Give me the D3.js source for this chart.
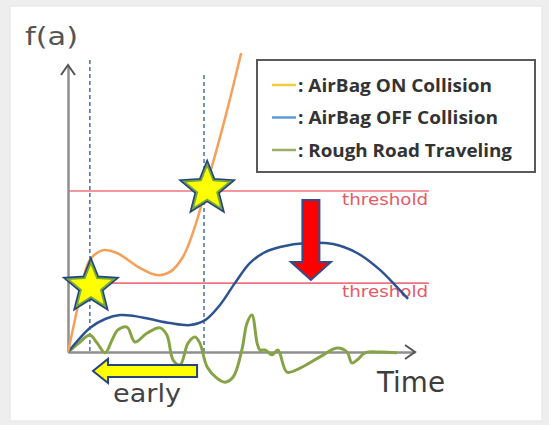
<!DOCTYPE html>
<html>
<head>
<meta charset="utf-8">
<script src="https://cdn.jsdelivr.net/npm/d3@7"></script>
<style>
  html, body { margin: 0; padding: 0; background: #eeeeee; }
  svg { display: block; }
</style>
</head>
<body>
<svg id="chart" width="549" height="425"></svg>
<script>
// ---------- data (time t, value f(a)) ----------
const seriesNames = ["AirBag ON Collision", "AirBag OFF Collision", "Rough Road Traveling"];
const legendColors = ["#f2cc3a", "#5b9bd5", "#9bad6a"];

const airbagOnT = [0, 2.6, 4.3, 6.3, 10.1, 14.1, 20.7, 25.6, 29.4, 33.1, 37.2, 39.5, 42.4, 46.1, 49.9];
const airbagOnV = [0, 14.6, 25.1, 32.1, 35.5, 34.5, 29.3, 26.8, 27.9, 33.1, 46.0, 56.4, 68.6, 85.4, 104.2];

const airbagOffT = [0, 3.5, 6.3, 10.7, 15.0, 19.3, 23.6, 29.4, 35.2, 39.5, 43.8, 48.1, 52.4, 56.8, 61.1, 68.9, 76.4, 83.3, 89.9, 94.8, 98.0];
const airbagOffV = [0, 4.9, 8.4, 11.5, 12.9, 12.5, 11.5, 10.1, 9.4, 11.1, 16.4, 24.0, 31.0, 34.8, 36.6, 38.0, 37.6, 34.5, 28.6, 22.6, 18.5];

const roughT = [0, 3.5, 6.3, 8.4, 10.7, 12.7, 14.4, 17.0, 19.3, 22.8, 26.5, 28.5, 30.3, 32.3, 34.6, 36.6, 38.0, 40.1, 42.9, 45.2, 47.6, 50.1, 51.6, 53.0, 54.5, 55.3, 56.8, 58.8, 60.5, 63.1, 66.9, 72.6, 77.5, 80.4, 81.8, 83.3, 85.6, 89.9, 94.8];
const roughV = [0, 3.5, 5.9, 3.1, -0.3, 4.2, 7.7, 8.7, 3.5, 6.6, 8.4, 5.9, -2.8, -4.5, 3.1, 5.2, 3.1, -5.2, -9.1, -10.5, -8.7, 0.7, 10.1, 12.9, 3.1, 0.7, 0.7, -1.0, 0.7, -7.0, -5.6, -1.7, 1.4, 0, -3.8, -2.8, -0.3, 0, -0.3];

const thresholds = [56.1, 24.0];
const thresholdLabel = "threshold";
const markerTimes = [6.3, 39.2];          // dashed vertical lines
const markerTops = [101.7, 96.5];
const starT = [6.6, 40.1];
const starV = [22.8, 56.8];
const dropArrow = { t: 70.0, from: 53.0, to: 25.1 };   // red arrow
const earlyArrow = { from: 37.2, to: 7.2, v: -6.6 };   // yellow arrow
const xLabel = "Time", yLabel = "f(a)", earlyLabel = "early";

// ---------- scales ----------
const x = d3.scaleLinear().domain([0, 100]).range([68, 415]);
const y = d3.scaleLinear().domain([0, 100]).range([352, 65]);

const svg = d3.select("#chart");

// panel
svg.append("rect").attr("x", 10).attr("y", 6).attr("width", 532).attr("height", 415)
  .attr("fill", "#ffffff").attr("stroke", "#e4e4e4").attr("stroke-width", 1);

// thresholds
svg.selectAll(".thr").data(thresholds).join("line")
  .attr("x1", x(0)).attr("x2", x(104))
  .attr("y1", d => y(d)).attr("y2", d => y(d))
  .attr("stroke", "#ee7480").attr("stroke-width", 1.6);
svg.selectAll(".thrl").data(thresholds).join("text")
  .attr("x", x(79)).attr("y", d => y(d) + 14)
  .attr("font-family", "DejaVu Sans").attr("font-size", 15)
  .attr("fill", "#e35a68").attr("textLength", 86).attr("lengthAdjust", "spacingAndGlyphs")
  .text(thresholdLabel);

// dashed markers
svg.selectAll(".mk").data(markerTimes).join("line")
  .attr("x1", d => x(d)).attr("x2", d => x(d))
  .attr("y1", (d, i) => y(markerTops[i])).attr("y2", y(0))
  .attr("stroke", "#4a6ea8").attr("stroke-width", 1.5).attr("stroke-dasharray", "4,3");

// axes
const yAxis = d3.axisLeft(y).tickValues([]).tickSizeOuter(0);
const xAxis = d3.axisBottom(x).tickValues([]).tickSizeOuter(0);
const gy = svg.append("g").attr("transform", `translate(${x(0)},0)`).call(yAxis);
const gx = svg.append("g").attr("transform", `translate(0,${y(0)})`).call(xAxis);
[gx, gy].forEach(g => g.select(".domain").attr("stroke", "#8f8f8f").attr("stroke-width", 2.5));
// arrow heads
svg.append("path")
  .attr("d", `M${x(0) - 7},${y(100) + 10}L${x(0)},${y(100)}L${x(0) + 7},${y(100) + 10}`)
  .attr("fill", "none").attr("stroke", "#555").attr("stroke-width", 2);
svg.append("path")
  .attr("d", `M${x(100) - 10},${y(0) - 7}L${x(100)},${y(0)}L${x(100) - 10},${y(0) + 7}`)
  .attr("fill", "none").attr("stroke", "#555").attr("stroke-width", 2);

// curves
const line = d3.line().x(d => x(d[0])).y(d => y(d[1])).curve(d3.curveCatmullRom.alpha(0.5));
const zip = (a, b) => a.map((v, i) => [v, b[i]]);
svg.append("path").datum(zip(roughT, roughV)).attr("d", line)
  .attr("fill", "none").attr("stroke", "#86a447").attr("stroke-width", 3).attr("stroke-linejoin", "round");
svg.append("path").datum(zip(airbagOffT, airbagOffV)).attr("d", line)
  .attr("fill", "none").attr("stroke", "#2e5391").attr("stroke-width", 2.5);
svg.append("path").datum(zip(airbagOnT, airbagOnV)).attr("d", line)
  .attr("fill", "none").attr("stroke", "#f4a05a").attr("stroke-width", 2.5);

// stars
function starPath(cx, cy, R, r) {
  const pts = [];
  for (let k = 0; k < 10; k++) {
    const a = -Math.PI / 2 + k * Math.PI / 5;
    const rr = k % 2 === 0 ? R : r;
    pts.push([cx + rr * Math.cos(a), cy + rr * Math.sin(a)]);
  }
  return "M" + pts.map(p => p.join(",")).join("L") + "Z";
}
starT.forEach((t, i) => {
  const d = starPath(x(t), y(starV[i]), 24, 10.5);
  svg.append("path").attr("d", d).attr("fill", "#ffff00").attr("stroke", "#26457e").attr("stroke-width", 5).attr("stroke-linejoin", "miter");
  svg.append("path").attr("d", d).attr("fill", "#ffff00").attr("stroke", "#74a83c").attr("stroke-width", 1.8);
});

// red down arrow
{
  const cx = x(dropArrow.t), top = y(dropArrow.from), tip = y(dropArrow.to);
  const bw = 8.5, hw = 20, hh = 18;
  const d = `M${cx - bw},${top}L${cx + bw},${top}L${cx + bw},${tip - hh}L${cx + hw},${tip - hh}L${cx},${tip}L${cx - hw},${tip - hh}L${cx - bw},${tip - hh}Z`;
  svg.append("path").attr("d", d).attr("fill", "#ff0000").attr("stroke", "#2e4f8c").attr("stroke-width", 2);
}

// yellow left arrow
{
  const x0 = x(earlyArrow.from), x1 = x(earlyArrow.to), cy = y(earlyArrow.v);
  const bh = 6, hh = 12, hl = 15;
  const d = `M${x0},${cy - bh}L${x1 + hl},${cy - bh}L${x1 + hl},${cy - hh}L${x1},${cy}L${x1 + hl},${cy + hh}L${x1 + hl},${cy + bh}L${x0},${cy + bh}Z`;
  svg.append("path").attr("d", d).attr("fill", "#ffff00").attr("stroke", "#26457e").attr("stroke-width", 2);
}

// texts
svg.append("text").attr("x", 25).attr("y", 45)
  .attr("font-family", "DejaVu Sans").attr("font-size", 25).attr("fill", "#555")
  .attr("textLength", 53).attr("lengthAdjust", "spacingAndGlyphs").text(yLabel);
svg.append("text").attr("x", 377).attr("y", 392)
  .attr("font-family", "DejaVu Sans").attr("font-size", 29).attr("fill", "#3d3d3d")
  .attr("textLength", 68).attr("lengthAdjust", "spacingAndGlyphs").text(xLabel);
svg.append("text").attr("x", 113).attr("y", 402)
  .attr("font-family", "DejaVu Sans").attr("font-size", 24).attr("fill", "#444")
  .attr("textLength", 68).attr("lengthAdjust", "spacingAndGlyphs").text(earlyLabel);

// legend
const lg = svg.append("g");
lg.append("rect").attr("x", 257).attr("y", 60).attr("width", 278).attr("height", 112)
  .attr("fill", "#fff").attr("stroke", "#5a5a5a").attr("stroke-width", 2);
const legendW = [194, 200, 214];
seriesNames.forEach((name, i) => {
  const cy = 85 + i * 32.5;
  lg.append("line").attr("x1", 272).attr("x2", 296).attr("y1", cy).attr("y2", cy)
    .attr("stroke", legendColors[i]).attr("stroke-width", 2.5);
  lg.append("text").attr("x", 298).attr("y", cy + 6.5)
    .attr("font-family", "Open Sans").attr("font-weight", 700).attr("font-size", 17.5)
    .attr("fill", "#333").attr("textLength", legendW[i]).attr("lengthAdjust", "spacingAndGlyphs")
    .text(": " + name);
});
</script>
</body>
</html>
